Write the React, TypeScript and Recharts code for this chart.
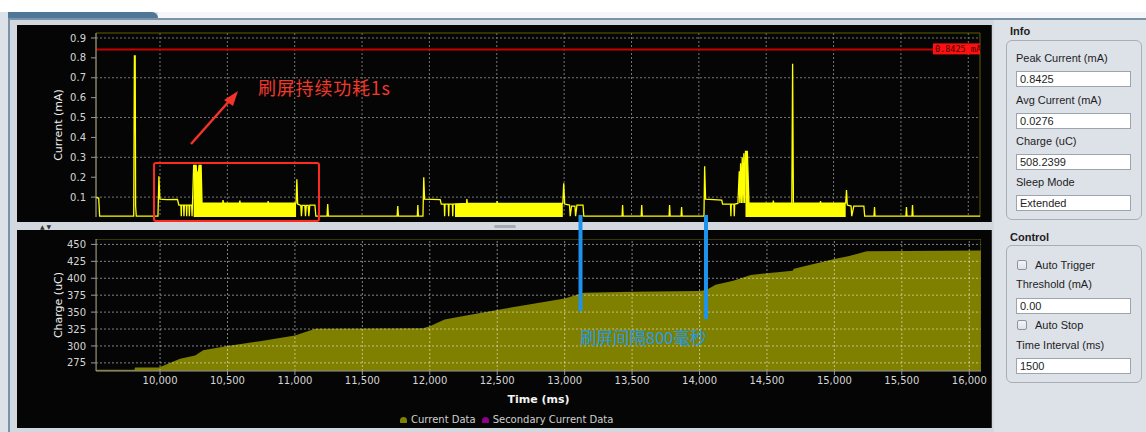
import React from 'react';
import {
  ComposedChart,
  Line,
  Area,
  XAxis,
  YAxis,
  CartesianGrid,
  ReferenceLine,
} from 'recharts';

// time axis shared by both charts (ms)
const TIME_DOMAIN = [9525, 16087];
const TIME_TICKS = [10000, 10500, 11000, 11500, 12000, 12500, 13000, 13500, 14000, 14500, 15000, 15500, 16000];

const CURRENT_DOMAIN = [0, 0.925];
const CURRENT_TICKS = [0.1, 0.2, 0.3, 0.4, 0.5, 0.6, 0.7, 0.8, 0.9];
const PEAK_CURRENT = 0.8425;

const CHARGE_DOMAIN = [263, 458];
const CHARGE_TICKS = [275, 300, 325, 350, 375, 400, 425, 450];

// current trace [ms, mA] (upper envelope)
const CURRENT_TRACE: [number, number][] = [
  [9525, 0.098], [9545, 0.095], [9552, 0.004],
  [9805, 0.004], [9810, 0.81], [9816, 0.81], [9819, 0.055], [9824, 0.004],
  [9985, 0.004], [9992, 0.205], [9999, 0.09], [10050, 0.087], [10130, 0.088], [10140, 0.06],
  [10155, 0.06], [10158, 0.004], [10161, 0.06],
  [10175, 0.06], [10178, 0.004], [10181, 0.06],
  [10195, 0.06], [10198, 0.004], [10201, 0.06],
  [10215, 0.06], [10218, 0.004], [10221, 0.06],
  [10235, 0.06], [10238, 0.004], [10241, 0.06],
  [10250, 0.26], [10268, 0.26], [10272, 0.225], [10285, 0.225], [10290, 0.26], [10305, 0.26], [10312, 0.07],
  [10465, 0.07], [10468, 0.085], [10471, 0.07],
  [10590, 0.07], [10593, 0.082], [10596, 0.07],
  [10800, 0.07], [10803, 0.08], [10806, 0.07],
  [11010, 0.07], [11016, 0.19], [11022, 0.065],
  [11045, 0.058], [11050, 0.004], [11056, 0.058],
  [11075, 0.058], [11080, 0.004], [11086, 0.058],
  [11100, 0.058], [11105, 0.004], [11112, 0.06],
  [11150, 0.06], [11157, 0.004],
  [11240, 0.004], [11245, 0.065], [11250, 0.004],
  [11760, 0.004], [11765, 0.055], [11770, 0.004],
  [11910, 0.004], [11914, 0.06], [11918, 0.004],
  [11952, 0.004], [11958, 0.2], [11964, 0.09], [12080, 0.087], [12088, 0.065],
  [12110, 0.065], [12113, 0.004], [12116, 0.065],
  [12140, 0.065], [12143, 0.004], [12146, 0.065],
  [12170, 0.065], [12173, 0.004], [12176, 0.065],
  [12275, 0.068], [12278, 0.09], [12282, 0.068],
  [12500, 0.068], [12503, 0.08], [12506, 0.068],
  [12990, 0.068], [12997, 0.17], [13004, 0.065],
  [13040, 0.06], [13045, 0.004], [13055, 0.055],
  [13080, 0.055], [13085, 0.004], [13095, 0.06],
  [13140, 0.06], [13146, 0.004],
  [13430, 0.004], [13434, 0.06], [13438, 0.004],
  [13572, 0.004], [13576, 0.06], [13580, 0.004],
  [13779, 0.004], [13783, 0.06], [13787, 0.004],
  [13868, 0.004], [13872, 0.05], [13876, 0.004],
  [14038, 0.004], [14043, 0.255], [14050, 0.09], [14170, 0.085], [14176, 0.065],
  [14235, 0.065], [14238, 0.004], [14241, 0.065],
  [14260, 0.065], [14263, 0.004], [14266, 0.065],
  [14290, 0.068], [14300, 0.23], [14304, 0.07], [14310, 0.27], [14316, 0.07], [14322, 0.3],
  [14328, 0.07], [14334, 0.32], [14340, 0.07], [14346, 0.33], [14360, 0.33], [14372, 0.07],
  [14550, 0.07], [14553, 0.082], [14556, 0.07],
  [14690, 0.07], [14696, 0.77], [14702, 0.07],
  [14900, 0.07], [14903, 0.08], [14906, 0.07],
  [15090, 0.07], [15096, 0.135], [15102, 0.06],
  [15130, 0.055], [15135, 0.004], [15150, 0.055],
  [15225, 0.055], [15231, 0.004],
  [15300, 0.004], [15304, 0.05], [15308, 0.004],
  [15537, 0.004], [15541, 0.05], [15545, 0.004],
  [15582, 0.004], [15586, 0.06], [15590, 0.004],
  [16087, 0.004],
];

// where the sampled current toggles so fast it shows as a solid block
const DENSE_BLOCKS: [number, number | null][] = [
  [10250, 0.26], [10268, 0.26], [10272, 0.225], [10285, 0.225], [10290, 0.26], [10305, 0.26], [10312, 0.07], [11010, 0.07],
  [11020, null],
  [12190, 0.066], [12275, 0.068], [12990, 0.068],
  [13000, null],
  [14346, 0.33], [14360, 0.33], [14372, 0.07], [15090, 0.07],
];

// accumulated charge [ms, uC]
const CHARGE_TRACE: [number, number][] = [
  [9525, 265], [9810, 265], [9814, 268], [9990, 268], [10050, 273], [10148, 281], [10260, 286],
  [10320, 293.5], [10500, 300], [10740, 307], [11000, 315.5], [11150, 325.5], [11950, 326],
  [12000, 329], [12110, 339], [12260, 344.5], [12520, 354], [13000, 370], [13140, 378.5],
  [13510, 380], [14000, 381], [14050, 382.5], [14120, 390.5], [14250, 396.5], [14380, 405],
  [14690, 411], [14700, 414], [15000, 428.5], [15110, 433], [15240, 440], [16087, 441],
];

const currentData = CURRENT_TRACE.map(([t, v]) => ({ t, v }));
const denseData = DENSE_BLOCKS.map(([t, v]) => ({ t, v }));
const chargeData = CHARGE_TRACE.map(([t, v]) => ({ t, v }));

// the charge pane's grid sits on top of its fill, so it is drawn as plain line series
const chargeGridH = CHARGE_TICKS.map((c) => [
  { t: TIME_DOMAIN[0], v: c },
  { t: TIME_DOMAIN[1], v: c },
]);
const chargeGridV = TIME_TICKS.map((t) => [
  { t, v: CHARGE_DOMAIN[0] },
  { t, v: CHARGE_DOMAIN[1] },
]);
const chargeFrame = [
  { t: TIME_DOMAIN[0], v: CHARGE_DOMAIN[0] },
  { t: TIME_DOMAIN[1], v: CHARGE_DOMAIN[0] },
  { t: TIME_DOMAIN[1], v: CHARGE_DOMAIN[1] },
  { t: TIME_DOMAIN[0], v: CHARGE_DOMAIN[1] },
  { t: TIME_DOMAIN[0], v: CHARGE_DOMAIN[0] },
];

const tickStyle = { fill: '#d6d6d6', fontSize: 10, fontFamily: 'DejaVu Sans' };
const gridDash = '2 2';

const PeakTag = (props: any) => {
  const { viewBox } = props;
  const x = viewBox.x + viewBox.width - 47;
  const y = viewBox.y - 6;
  return (
    <g>
      <rect x={x} y={y} width={47} height={11} fill="#ff1010" />
      <text x={x + 2} y={y + 8.5} fill="#3a0000" fontSize={8.5} fontFamily="DejaVu Sans Mono">
        0.8425 mA
      </text>
    </g>
  );
};

const sideLabel = (text: string) => (props: any) => {
  const { viewBox } = props;
  const cx = viewBox.x + 41;
  const cy = viewBox.y + viewBox.height / 2;
  return (
    <text
      x={cx}
      y={cy}
      transform={`rotate(-90 ${cx} ${cy})`}
      textAnchor="middle"
      dominantBaseline="central"
      fill="#f0f0f0"
      fontSize={11}
      fontFamily="DejaVu Sans"
    >
      {text}
    </text>
  );
};

const CurrentChart = () => (
  <ComposedChart width={971} height={197} margin={{ top: 8, right: 8, bottom: 5, left: 0 }}>
    <CartesianGrid
      stroke="#777"
      strokeDasharray={gridDash}
      horizontalValues={CURRENT_TICKS}
      verticalValues={TIME_TICKS}
    />
    {/* plot frame */}
    <CartesianGrid stroke="#5e5e00" horizontalValues={CURRENT_DOMAIN} verticalValues={TIME_DOMAIN} />
    <XAxis type="number" dataKey="t" domain={TIME_DOMAIN} ticks={TIME_TICKS} allowDataOverflow hide />
    <YAxis
      type="number"
      domain={CURRENT_DOMAIN}
      ticks={CURRENT_TICKS}
      allowDataOverflow
      width={79}
      tick={tickStyle}
      tickFormatter={(v: number) => v.toFixed(1)}
      tickSize={5}
      tickMargin={5}
      stroke="#999"
      label={sideLabel('Current (mA)')}
    />
    <Area
      data={denseData}
      dataKey="v"
      type="linear"
      stroke="none"
      fill="#ffff00"
      fillOpacity={1}
      isAnimationActive={false}
    />
    <Line
      data={currentData}
      dataKey="v"
      type="linear"
      stroke="#ffff00"
      strokeWidth={1.3}
      dot={false}
      isAnimationActive={false}
    />
    <ReferenceLine y={PEAK_CURRENT} stroke="#c80000" strokeWidth={2} label={<PeakTag />} />
  </ComposedChart>
);

const ChargeChart = () => (
  <ComposedChart width={971} height={198} margin={{ top: 9, right: 7, bottom: 24, left: 0 }}>
    <XAxis
      type="number"
      dataKey="t"
      domain={TIME_DOMAIN}
      ticks={TIME_TICKS}
      interval={0}
      allowDataOverflow
      height={33}
      tick={tickStyle}
      tickFormatter={(v: number) => v.toLocaleString('en-US')}
      tickSize={4}
      tickMargin={2}
      stroke="#999"
      label={{
        value: 'Time (ms)',
        position: 'insideBottom',
        offset: 1,
        fill: '#f4f4f4',
        fontSize: 11,
        fontWeight: 'bold',
        fontFamily: 'DejaVu Sans',
      }}
    />
    <YAxis
      type="number"
      domain={CHARGE_DOMAIN}
      ticks={CHARGE_TICKS}
      allowDataOverflow
      width={79}
      tick={tickStyle}
      tickSize={5}
      tickMargin={5}
      stroke="#999"
      label={sideLabel('Charge (uC)')}
    />
    <Area
      data={chargeData}
      dataKey="v"
      type="linear"
      stroke="none"
      fill="#808000"
      fillOpacity={1}
      isAnimationActive={false}
    />
    {chargeGridH.map((d, i) => (
      <Line
        key={'gh' + i}
        data={d}
        dataKey="v"
        stroke="rgba(255,255,255,0.5)"
        strokeWidth={1}
        strokeDasharray={gridDash}
        dot={false}
        legendType="none"
        isAnimationActive={false}
      />
    ))}
    {chargeGridV.map((d, i) => (
      <Line
        key={'gv' + i}
        data={d}
        dataKey="v"
        stroke="rgba(255,255,255,0.5)"
        strokeWidth={1}
        strokeDasharray={gridDash}
        dot={false}
        legendType="none"
        isAnimationActive={false}
      />
    ))}
    <Line
      data={chargeFrame}
      dataKey="v"
      stroke="#6a6a00"
      strokeWidth={1}
      dot={false}
      legendType="none"
      isAnimationActive={false}
    />
  </ComposedChart>
);

const abs = (left: number, top: number, width: number, height: number, extra: React.CSSProperties = {}) => ({
  position: 'absolute' as const,
  left,
  top,
  width,
  height,
  ...extra,
});

const panelFont = { fontFamily: '"Liberation Sans", Arial, sans-serif', fontSize: 11, color: '#1d1d1d' };

const inputBox = (top: number): React.CSSProperties =>
  abs(1016, top, 115, 16, {
    ...panelFont,
    background: '#fff',
    border: '1px solid #9ea4ad',
    boxSizing: 'border-box',
    lineHeight: '14px',
    paddingLeft: 3,
  });

const Field = ({ top, label, value }: { top: number; label: string; value: string }) => (
  <>
    <div style={abs(1016, top - 7, 125, 14, { ...panelFont, lineHeight: '14px' })}>{label}</div>
    <div style={inputBox(top + 13)}>{value}</div>
  </>
);

const Check = ({ top, label }: { top: number; label: string }) => (
  <>
    <div
      style={abs(1017, top - 5, 10, 10, {
        background: 'linear-gradient(#f4f5f7,#dfe2e6)',
        border: '1px solid #8d939c',
        borderRadius: 2,
        boxSizing: 'border-box',
      })}
    />
    <div style={abs(1035, top - 7, 100, 14, { ...panelFont, lineHeight: '14px' })}>{label}</div>
  </>
);

const Legend = () => (
  <div
    style={abs(400, 413, 260, 14, {
      fontFamily: 'DejaVu Sans',
      fontSize: 10,
      color: '#cfcfcf',
      lineHeight: '14px',
      display: 'flex',
      alignItems: 'center',
      whiteSpace: 'nowrap',
    })}
  >
    <span style={{ display: 'inline-block', width: 7, height: 6, background: '#808000', borderRadius: '4px 4px 1px 1px', marginRight: 4 }} />
    <span style={{ marginRight: 6 }}>Current Data</span>
    <span style={{ display: 'inline-block', width: 7, height: 6, background: '#8a008a', borderRadius: '4px 4px 1px 1px', marginRight: 4 }} />
    <span>Secondary Current Data</span>
  </div>
);

export default function App() {
  return (
    <div style={abs(0, 0, 1146, 432, { background: '#dde1e8', overflow: 'hidden' })}>
      {/* window chrome */}
      <div style={abs(0, 0, 1146, 12, { background: '#ffffff' })} />
      <div style={abs(8, 12, 150, 7, { background: '#4f7797', borderRadius: '0 6px 0 0' })} />
      <div style={abs(158, 12, 988, 7, { background: '#f4f6f9' })} />
      <div style={abs(8, 18, 1138, 2, { background: '#7b93a8' })} />
      <div style={abs(8, 18, 2, 414, { background: '#7b93a8' })} />
      <div style={abs(10, 20, 984, 412, { background: '#d3d8df' })} />

      {/* chart panels */}
      <div style={abs(17, 25, 974, 197, { background: '#050505', borderRight: '1px solid #333' })}>
        <CurrentChart />
      </div>
      <div style={abs(40, 223, 30, 8, { fontSize: 6, color: '#333', lineHeight: '8px', fontFamily: 'DejaVu Sans' })}>▲ ▼</div>
      <div style={abs(494, 225, 22, 3, { background: '#a6abb3', borderRadius: 2 })} />
      <div style={abs(17, 230, 974, 198, { background: '#050505', borderRight: '1px solid #333' })}>
        <ChargeChart />
      </div>
      <Legend />

      {/* side panel */}
      <div style={abs(1010, 24, 60, 14, { ...panelFont, fontWeight: 'bold', lineHeight: '14px' })}>Info</div>
      <div
        style={abs(1006, 40, 136, 180, {
          border: '1px solid #a9aeb6',
          borderRadius: 6,
          boxSizing: 'border-box',
        })}
      />
      <Field top={58} label="Peak Current (mA)" value="0.8425" />
      <Field top={100} label="Avg Current (mA)" value="0.0276" />
      <Field top={141} label="Charge (uC)" value="508.2399" />
      <Field top={182} label="Sleep Mode" value="Extended" />
      <div style={abs(1010, 230, 60, 14, { ...panelFont, fontWeight: 'bold', lineHeight: '14px' })}>Control</div>
      <div
        style={abs(1006, 245, 136, 138, {
          border: '1px solid #a9aeb6',
          borderRadius: 6,
          boxSizing: 'border-box',
        })}
      />
      <Check top={265} label="Auto Trigger" />
      <div style={abs(1016, 277, 125, 14, { ...panelFont, lineHeight: '14px' })}>Threshold (mA)</div>
      <div style={inputBox(298)}>0.00</div>
      <Check top={325} label="Auto Stop" />
      <Field top={345} label="Time Interval (ms)" value="1500" />

      {/* hand-drawn annotations on the screenshot */}
      <svg style={abs(0, 0, 1146, 432, { pointerEvents: 'none' })} width={1146} height={432}>
        <rect x={154} y={163} width={165} height={58} rx={2} fill="none" stroke="#ff2a1f" strokeWidth={2} />
        <line x1={191} y1={144} x2={231} y2={99} stroke="#f2332a" strokeWidth={2.5} />
        <polygon points="238,91 224,100 233,106" fill="#f2332a" />
        <text x={258} y={95} fill="#f0392c" fontSize={18} fontFamily="Noto Sans CJK SC" textLength={132}>
          刷屏持续功耗1s
        </text>
        <line x1={580.5} y1={215} x2={580.5} y2={311} stroke="#1e93ec" strokeWidth={4} />
        <line x1={706} y1={215} x2={706} y2={319} stroke="#1e93ec" strokeWidth={4} />
        <text x={580} y={344} fill="#229bea" fontSize={16.5} fontFamily="Noto Sans CJK SC">
          刷屏间隔800毫秒
        </text>
      </svg>
    </div>
  );
}
